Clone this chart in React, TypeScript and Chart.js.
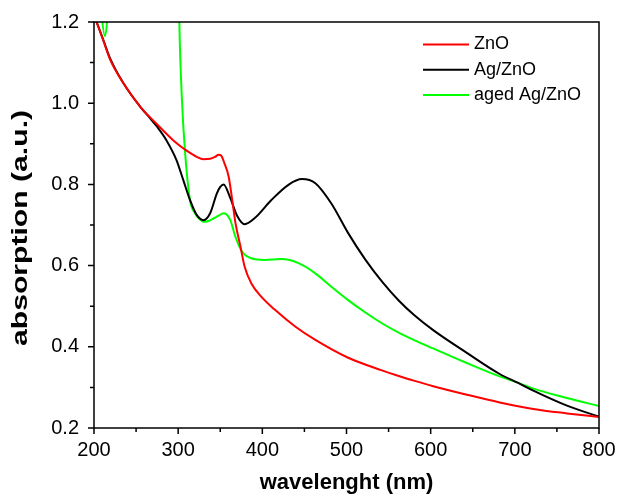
import React, { useEffect, useRef } from "react";
import { Chart, registerables } from "chart.js";

Chart.register(...registerables);

const X_MIN = 200;
const X_MAX = 800;
const Y_MIN = 0.2;
const Y_MAX = 1.2;

const xMajorTicks = [200, 300, 400, 500, 600, 700, 800];
const xMinorTicks = [250, 350, 450, 550, 650, 750];
const yMajorTicks = [0.2, 0.4, 0.6, 0.8, 1.0, 1.2];
const yMinorTicks = [0.3, 0.5, 0.7, 0.9, 1.1];

const xTitle = "wavelenght (nm)";
const yTitle = "absorption (a.u.)";

const seriesLabels = ["ZnO", "Ag/ZnO", "aged Ag/ZnO"];
const seriesColors = ["#ff0000", "#000000", "#00ff00"];

const znoWavelength = [200, 203, 211, 219, 235, 255, 274, 294, 306, 310, 322, 330, 338, 344, 348, 351, 355, 360, 364, 368, 374, 379, 387, 399, 415, 439, 463, 502, 542, 562, 581, 603, 643, 682, 722, 762, 800];
const znoAbsorption = [1.215, 1.2, 1.155, 1.108, 1.049, 0.991, 0.95, 0.909, 0.889, 0.883, 0.868, 0.862, 0.863, 0.868, 0.873, 0.871, 0.852, 0.819, 0.765, 0.706, 0.647, 0.597, 0.556, 0.523, 0.491, 0.45, 0.417, 0.373, 0.342, 0.328, 0.316, 0.303, 0.282, 0.263, 0.247, 0.236, 0.227];

const agWavelength = [200, 203, 211, 219, 235, 255, 267, 275, 286, 298, 306, 314, 322, 330, 338, 346, 350, 354, 362, 370, 379, 391, 411, 431, 447, 463, 482, 502, 522, 542, 562, 581, 603, 643, 682, 704, 722, 762, 800];
const agAbsorption = [1.215, 1.2, 1.156, 1.111, 1.049, 0.991, 0.962, 0.942, 0.909, 0.86, 0.811, 0.762, 0.725, 0.712, 0.729, 0.778, 0.794, 0.8, 0.766, 0.723, 0.702, 0.717, 0.762, 0.799, 0.813, 0.803, 0.753, 0.68, 0.616, 0.561, 0.514, 0.477, 0.441, 0.385, 0.333, 0.311, 0.292, 0.255, 0.228];

const agedWavelength = [200, 209, 213, 216, 222, 260, 296, 301.4, 304.5, 308, 314, 320, 325, 330, 336, 342, 348, 354, 357, 362, 368, 376, 387, 403, 423, 443, 463, 482, 502, 522, 542, 562, 581, 603, 643, 682, 704, 722, 762, 800];
const agedAbsorption = [1.5, 1.22, 1.165, 1.22, 1.6, 2.5, 2.0, 1.2, 1.008, 0.885, 0.762, 0.729, 0.715, 0.708, 0.71, 0.716, 0.723, 0.729, 0.727, 0.712, 0.671, 0.634, 0.618, 0.614, 0.616, 0.606, 0.581, 0.548, 0.515, 0.485, 0.458, 0.435, 0.416, 0.396, 0.36, 0.327, 0.311, 0.297, 0.274, 0.254];

const FONT = '"Liberation Sans", Arial, Helvetica, sans-serif';

const toPoints = (xs: number[], ys: number[]) => xs.map((x, i) => ({ x, y: ys[i] }));

const framePlugin = {
  id: "frameAndLegend",
  afterDraw(chart: any) {
    const { ctx, chartArea: a, scales } = chart;
    const xs = scales.x;
    const ys = scales.y;
    ctx.save();
    ctx.strokeStyle = "#000";
    ctx.lineWidth = 1.5;
    ctx.strokeRect(a.left, a.top, a.right - a.left, a.bottom - a.top);
    ctx.beginPath();
    xMajorTicks.forEach((v) => {
      const p = xs.getPixelForValue(v);
      ctx.moveTo(p, a.bottom);
      ctx.lineTo(p, a.bottom + 6);
    });
    xMinorTicks.forEach((v) => {
      const p = xs.getPixelForValue(v);
      ctx.moveTo(p, a.bottom);
      ctx.lineTo(p, a.bottom + 4);
    });
    yMajorTicks.forEach((v) => {
      const p = ys.getPixelForValue(v);
      ctx.moveTo(a.left, p);
      ctx.lineTo(a.left - 6, p);
    });
    yMinorTicks.forEach((v) => {
      const p = ys.getPixelForValue(v);
      ctx.moveTo(a.left, p);
      ctx.lineTo(a.left - 4, p);
    });
    ctx.stroke();

    // legend inside the plot, top right
    ctx.font = `18px ${FONT}`;
    ctx.textBaseline = "middle";
    ctx.textAlign = "left";
    chart.data.datasets.forEach((ds: any, i: number) => {
      const yy = a.top + 22.5 + i * 25.3;
      ctx.strokeStyle = ds.borderColor;
      ctx.lineWidth = 2;
      ctx.beginPath();
      ctx.moveTo(a.right - 176, yy);
      ctx.lineTo(a.right - 130, yy);
      ctx.stroke();
      ctx.fillStyle = "#000";
      ctx.fillText(ds.label, a.right - 125, yy);
    });

    // y axis title (condensed glyphs, as in the original figure)
    ctx.save();
    ctx.translate(21, (a.top + a.bottom) / 2 + 3);
    ctx.rotate(-Math.PI / 2);
    ctx.scale(1.37, 1);
    ctx.font = `bold 22px ${FONT}`;
    ctx.textAlign = "center";
    ctx.textBaseline = "middle";
    ctx.fillStyle = "#000";
    ctx.fillText(yTitle, 0, 0);
    ctx.restore();

    ctx.restore();
  },
};

export default function App() {
  const canvasRef = useRef<HTMLCanvasElement | null>(null);

  useEffect(() => {
    if (!canvasRef.current) return;
    const seriesX = [znoWavelength, agWavelength, agedWavelength];
    const seriesY = [znoAbsorption, agAbsorption, agedAbsorption];
    const chart = new Chart(canvasRef.current, {
      type: "line",
      data: {
        datasets: seriesLabels.map((label, i) => ({
          label,
          data: toPoints(seriesX[i], seriesY[i]),
          borderColor: seriesColors[i],
          backgroundColor: seriesColors[i],
          borderWidth: 2,
          pointRadius: 0,
          fill: false,
          cubicInterpolationMode: "monotone" as const,
        })),
      },
      options: {
        animation: false,
        responsive: false,
        devicePixelRatio: 1,
        layout: { padding: { top: 22, right: 18, left: 0, bottom: 0 } },
        plugins: {
          legend: { display: false },
          tooltip: { enabled: false },
        },
        scales: {
          x: {
            type: "linear",
            min: X_MIN,
            max: X_MAX,
            grid: { display: false, drawTicks: false },
            border: { display: false },
            afterBuildTicks: (s: any) => {
              s.ticks = xMajorTicks.map((v) => ({ value: v }));
            },
            afterFit: (s: any) => {
              s.height = 68;
              s.paddingLeft = 0;
              s.paddingRight = 0;
            },
            ticks: {
              padding: 10,
              color: "#000",
              font: { family: FONT, size: 20 },
              maxRotation: 0,
              callback: (v: any) => String(v),
            },
            title: {
              display: true,
              text: xTitle,
              color: "#000",
              font: { family: FONT, size: 22, weight: "bold" },
              padding: { top: 0, bottom: 0 },
            },
          },
          y: {
            type: "linear",
            min: Y_MIN,
            max: Y_MAX,
            grid: { display: false, drawTicks: false },
            border: { display: false },
            afterBuildTicks: (s: any) => {
              s.ticks = yMajorTicks.map((v) => ({ value: v }));
            },
            afterFit: (s: any) => {
              s.width = 94;
              s.paddingTop = 0;
              s.paddingBottom = 0;
            },
            ticks: {
              padding: 15,
              color: "#000",
              font: { family: FONT, size: 20 },
              callback: (v: any) => Number(v).toFixed(1),
            },
            title: { display: false, text: yTitle },
          },
        },
      },
      plugins: [framePlugin],
    });
    return () => chart.destroy();
  }, []);

  return (
    <div style={{ position: "absolute", left: 0, top: 0, width: 617, height: 496, background: "#fff" }}>
      <canvas ref={canvasRef} width={617} height={496} style={{ display: "block", width: 617, height: 496 }} />
    </div>
  );
}
